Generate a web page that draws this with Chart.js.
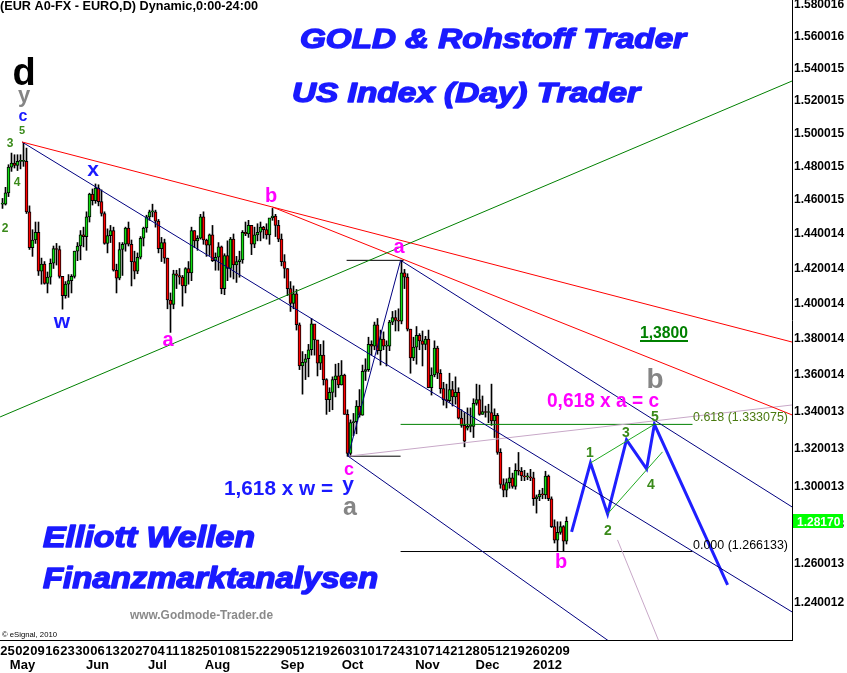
<!DOCTYPE html>
<html lang="de">
<head>
<meta charset="UTF-8" />
<title>EUR A0-FX - Elliott Wellen</title>
<script src="https://cdn.jsdelivr.net/npm/chart.js"></script>
<style>
  html, body { margin: 0; padding: 0; background: #fff; }
  #wrap { width: 847px; height: 673px; }
</style>
</head>
<body>
<div id="wrap"><canvas id="chart" width="847" height="673"></canvas></div>
<script>
// ---- data (trading days from Mon 25 Apr 2011 to Thu 12 Jan 2012, index 0..188) ----
const weekLabels = ['25','02','09','16','23','30','06','13','20','27','04','11','18','25','01','08','15','22','29',
  '05','12','19','26','03','10','17','24','31','07','14','21','28','05','12','19','26','02','09'];
const monthMarks = {1: 'May', 6: 'Jun', 10: 'Jul', 14: 'Aug', 19: 'Sep', 23: 'Oct', 28: 'Nov', 32: 'Dec', 36: '2012'};

const yTickLabels = ['1.580016','1.560016','1.540015','1.520015','1.500015','1.480015','1.460015','1.440014',
  '1.420014','1.400014','1.380014','1.360014','1.340013','1.320013','1.300013','1.280013','1.260013','1.240012'];

const opens = [
  1.4575,1.4575,1.4642,1.4795,1.4820, 1.4805,1.4830,1.4830,1.4830,1.4530,
  1.4320,1.4365,1.4410,1.4185,1.4225, 1.4115,1.4150,1.4230,1.4315,1.4310,
  1.4155,1.4045,1.4110,1.4130,1.4155, 1.4300,1.4330,1.4395,1.4385,1.4500,
  1.4635,1.4595,1.4670,1.4590,1.4520, 1.4345,1.4390,1.4420,1.4190,1.4145,
  1.4310,1.4340,1.4435,1.4340,1.4240, 1.4185,1.4265,1.4375,1.4435,1.4500,
  1.4530,1.4530,1.4475,1.4315,1.4350, 1.4260,1.4020,1.3995,1.4170,1.4160,
  1.4150,1.4100,1.4200,1.4175,1.4420, 1.4360,1.4375,1.4500,1.4365,1.4335,
  1.4395,1.4245,1.4265,1.4325,1.4085, 1.4275,1.4200,1.4370,1.4220,1.4240,
  1.4250,1.4410,1.4400,1.4450,1.4340, 1.4395,1.4410,1.4440,1.4425,1.4395,
  1.4495,1.4505,1.4450,1.4370,1.4240, 1.4200,1.4085,1.4000,1.4055,1.3880,
  1.3650,1.3670,1.3690,1.3740,1.3885, 1.3795,1.3665,1.3710,1.3575,1.3465,
  1.3505,1.3575,1.3595,1.3545,1.3600, 1.3385,1.3175,1.3340,1.3345,1.3430,
  1.3380,1.3620,1.3630,1.3770,1.3760, 1.3880,1.3735,1.3800,1.3760,1.3760,
  1.3895,1.3920,1.3905,1.3900,1.4175, 1.4150,1.3855,1.3695,1.3755,1.3820,
  1.3790,1.3770,1.3800,1.3530,1.3600, 1.3750,1.3610,1.3525,1.3465,1.3460,
  1.3520,1.3480,1.3505,1.3365,1.3325, 1.3310,1.3320,1.3320,1.3445,1.3465,
  1.3385,1.3400,1.3395,1.3395,1.3350, 1.3380,1.3180,1.3010,1.2980,1.3020,
  1.3045,1.3000,1.3085,1.3080,1.3055, 1.3050,1.3050,1.3045,1.2935,1.2945,
  1.2960,1.2955,1.3055,1.2935,1.2790, 1.2720,1.2760,1.2790,1.2715
];
const highs = [
  1.4609,1.4675,1.4810,1.4880,1.4870, 1.4870,1.4870,1.4940,1.4910,1.4565,
  1.4425,1.4470,1.4470,1.4260,1.4240, 1.4180,1.4255,1.4330,1.4345,1.4330,
  1.4120,1.4125,1.4165,1.4165,1.4300, 1.4350,1.4420,1.4440,1.4530,1.4640,
  1.4665,1.4695,1.4690,1.4660,1.4530, 1.4430,1.4450,1.4440,1.4225,1.4350,
  1.4350,1.4440,1.4470,1.4365,1.4300, 1.4290,1.4385,1.4440,1.4510,1.4540,
  1.4575,1.4540,1.4485,1.4380,1.4370, 1.4260,1.4060,1.4190,1.4190,1.4200,
  1.4160,1.4205,1.4240,1.4440,1.4420, 1.4390,1.4515,1.4530,1.4370,1.4400,
  1.4450,1.4290,1.4350,1.4330,1.4285, 1.4360,1.4380,1.4400,1.4270,1.4300,
  1.4420,1.4470,1.4480,1.4450,1.4440, 1.4460,1.4470,1.4445,1.4460,1.4490,
  1.4550,1.4515,1.4480,1.4400,1.4280, 1.4200,1.4125,1.4100,1.4080,1.3890,
  1.3730,1.3715,1.3770,1.3915,1.3860, 1.3770,1.3770,1.3790,1.3580,1.3530,
  1.3590,1.3660,1.3665,1.3680,1.3605, 1.3410,1.3355,1.3390,1.3460,1.3520,
  1.3655,1.3690,1.3810,1.3790,1.3895, 1.3915,1.3850,1.3840,1.3790,1.3905,
  1.3955,1.3960,1.3970,1.4247,1.4195, 1.4170,1.3855,1.3810,1.3870,1.3830,
  1.3845,1.3815,1.3850,1.3640,1.3790, 1.3760,1.3630,1.3560,1.3550,1.3610,
  1.3565,1.3590,1.3530,1.3410,1.3395, 1.3420,1.3420,1.3470,1.3550,1.3545,
  1.3485,1.3430,1.3440,1.3550,1.3415, 1.3390,1.3200,1.3040,1.3040,1.3100,
  1.3070,1.3120,1.3180,1.3100,1.3085, 1.3070,1.3090,1.3075,1.2955,1.2980,
  1.2990,1.3080,1.3060,1.2945,1.2825, 1.2815,1.2815,1.2795,1.2840
];
const lows = [
  1.4550,1.4570,1.4620,1.4770,1.4790, 1.4775,1.4785,1.4800,1.4520,1.4310,
  1.4270,1.4345,1.4160,1.4110,1.4110, 1.4060,1.4110,1.4200,1.4220,1.4145,
  1.3968,1.4030,1.4035,1.4060,1.4145, 1.4245,1.4250,1.4325,1.4305,1.4470,
  1.4570,1.4580,1.4565,1.4505,1.4340, 1.4290,1.4350,1.4185,1.4060,1.4135,
  1.4160,1.4300,1.4330,1.4100,1.4140, 1.4170,1.4255,1.4330,1.4410,1.4480,
  1.4500,1.4440,1.4290,1.4240,1.4230, 1.3970,1.3837,1.3970,1.4085,1.4110,
  1.3985,1.4060,1.4110,1.4130,1.4320, 1.4305,1.4370,1.4340,1.4270,1.4275,
  1.4240,1.4190,1.4190,1.4055,1.4050, 1.4130,1.4150,1.4140,1.4120,1.4150,
  1.4230,1.4390,1.4380,1.4280,1.4320, 1.4360,1.4360,1.4375,1.4370,1.4340,
  1.4480,1.4385,1.4355,1.4215,1.4145, 1.4045,1.3955,1.3970,1.3850,1.3630,
  1.3495,1.3575,1.3590,1.3710,1.3710, 1.3595,1.3630,1.3545,1.3385,1.3400,
  1.3410,1.3480,1.3530,1.3545,1.3385, 1.3160,1.3160,1.3270,1.3280,1.3370,
  1.3380,1.3570,1.3620,1.3710,1.3740, 1.3715,1.3655,1.3740,1.3650,1.3735,
  1.3880,1.3845,1.3845,1.3885,1.4085, 1.3845,1.3610,1.3680,1.3660,1.3740,
  1.3650,1.3740,1.3530,1.3490,1.3590, 1.3580,1.3500,1.3435,1.3420,1.3450,
  1.3430,1.3440,1.3360,1.3315,1.3210, 1.3300,1.3290,1.3260,1.3435,1.3380,
  1.3385,1.3370,1.3340,1.3325,1.3260, 1.3170,1.2990,1.2945,1.2945,1.2990,
  1.2990,1.2985,1.3060,1.3030,1.3030, 1.3035,1.3030,1.2900,1.2860,1.2925,
  1.2935,1.2935,1.2925,1.2785,1.2705, 1.266133,1.2750,1.2665,1.2700
];
const closes = [
  1.4575,1.4642,1.4795,1.4820,1.4805, 1.4830,1.4830,1.4830,1.4530,1.4320,
  1.4365,1.4410,1.4185,1.4225,1.4115, 1.4150,1.4230,1.4315,1.4310,1.4155,
  1.4045,1.4110,1.4130,1.4155,1.4300, 1.4330,1.4395,1.4385,1.4500,1.4635,
  1.4595,1.4670,1.4590,1.4520,1.4345, 1.4390,1.4420,1.4190,1.4145,1.4310,
  1.4340,1.4435,1.4340,1.4240,1.4185, 1.4265,1.4375,1.4435,1.4500,1.4530,
  1.4530,1.4475,1.4315,1.4350,1.4260, 1.4020,1.3995,1.4170,1.4160,1.4150,
  1.4100,1.4200,1.4175,1.4420,1.4360, 1.4375,1.4500,1.4365,1.4335,1.4395,
  1.4245,1.4265,1.4325,1.4085,1.4275, 1.4200,1.4370,1.4220,1.4240,1.4250,
  1.4410,1.4400,1.4450,1.4340,1.4395, 1.4410,1.4440,1.4425,1.4395,1.4495,
  1.4505,1.4450,1.4370,1.4240,1.4200, 1.4085,1.4000,1.4055,1.3880,1.3650,
  1.3670,1.3690,1.3740,1.3885,1.3795, 1.3665,1.3710,1.3575,1.3465,1.3505,
  1.3575,1.3595,1.3545,1.3600,1.3385, 1.3175,1.3340,1.3345,1.3430,1.3380,
  1.3620,1.3630,1.3770,1.3760,1.3880, 1.3735,1.3800,1.3760,1.3760,1.3895,
  1.3920,1.3905,1.3900,1.4175,1.4150, 1.3855,1.3695,1.3755,1.3820,1.3790,
  1.3770,1.3800,1.3530,1.3600,1.3750, 1.3610,1.3525,1.3465,1.3460,1.3520,
  1.3480,1.3505,1.3365,1.3325,1.3240, 1.3320,1.3320,1.3445,1.3465,1.3385,
  1.3400,1.3395,1.3395,1.3350,1.3380, 1.3180,1.3010,1.2980,1.3020,1.3045,
  1.3000,1.3085,1.3080,1.3055,1.3050, 1.3050,1.3045,1.2935,1.2945,1.2960,
  1.2955,1.3055,1.2935,1.2790,1.2720, 1.2760,1.2790,1.2715,1.2817
];

// trend lines: [trading-day index, price]
const redUpper   = [[6.5, 1.4947], [263.2, 1.3783]];
const redLower   = [[90, 1.4558], [263.2, 1.3382]];
const greenLong  = [[-0.8, 1.3371], [263.2, 1.5321]];
const navyUpper  = [[6.5, 1.4947], [263.2, 1.2355]];
const navyFromA  = [[132.7, 1.4247], [263.2, 1.2892]];
const navyFromC  = [[115.2, 1.3160], [202.5, 1.2206]];
const navyCtoA   = [[115.2, 1.3160], [132.7, 1.4247]];
const lightUp    = [[115.2, 1.3160], [263.2, 1.3436]];
const lightDown  = [[205, 1.2721], [219.3, 1.2191]];
const fibTop     = [[132.7, 1.333075], [230, 1.333075]];
const fibBase    = [[132.7, 1.266133], [230, 1.266133]];
const aLevel     = [[114.7, 1.4247], [133.7, 1.4247]];
const cLevel     = [[115, 1.3160], [132.7, 1.3160]];
const channel1   = [[196, 1.3124], [217.3, 1.3331]];
const channel2   = [[201.7, 1.2856], [220, 1.3183]];
const projX = [189.7, 196, 201.7, 208, 214.7, 217.3, 241.7];
const projY = [1.2762, 1.3124, 1.2856, 1.3247, 1.3092, 1.3331, 1.2491];

// ---- build datasets ----
const GREEN = '#11dd11', RED = '#ff0000';
const wicks = opens.map((o, i) => ({x: i, y: [lows[i], highs[i]]}));
const bodies = opens.map((o, i) => ({x: i, y: [o, closes[i]]}));
const bodyColors = opens.map((o, i) => closes[i] >= o ? GREEN : RED);

function seg(pts, color, width) {
  return {
    type: 'line',
    data: pts.map(p => ({x: p[0], y: p[1]})),
    borderColor: color,
    borderWidth: width || 1,
    pointRadius: 0,
    fill: false,
    tension: 0,
    order: -1
  };
}

const datasets = [
  {type: 'bar', data: wicks, backgroundColor: '#000', borderWidth: 0, barThickness: 1, grouped: false, order: 2},
  {type: 'bar', data: bodies, backgroundColor: bodyColors, borderColor: '#000', borderWidth: 1,
   borderSkipped: false, barThickness: 3, minBarLength: 1, grouped: false, order: 1},
  seg(greenLong, '#008000'),
  seg(redUpper, '#ff0000'),
  seg(redLower, '#ff0000'),
  seg(navyUpper, '#000080'),
  seg(navyFromA, '#000080'),
  seg(navyFromC, '#000080'),
  seg(navyCtoA, '#000080'),
  seg(lightUp, '#c8a8c8'),
  seg(lightDown, '#c8a8c8'),
  seg(fibTop, '#008000'),
  seg(fibBase, '#000000'),
  seg(aLevel, '#000000'),
  seg(cLevel, '#000000'),
  seg(channel1, '#22aa22'),
  seg(channel2, '#22aa22'),
  seg(projX.map((x, i) => [x, projY[i]]), '#1f1fff', 3)
];

// ---- text overlay ----
function put(ctx, s, x, y, font, color, align, width, heavy) {
  ctx.save();
  ctx.font = font;
  ctx.fillStyle = color;
  ctx.textBaseline = 'alphabetic';
  ctx.textAlign = 'left';
  const w = ctx.measureText(s).width;
  const sx = width ? width / w : 1;
  const left = align === 'center' ? x - w * sx / 2 : x;
  ctx.translate(left, y);
  ctx.scale(sx, 1);
  ctx.fillText(s, 0, 0);
  if (heavy) {
    ctx.strokeStyle = color;
    ctx.lineWidth = heavy;
    ctx.lineJoin = 'round';
    ctx.strokeText(s, 0, 0);
  }
  ctx.restore();
}

const F = '"Liberation Sans", Arial, sans-serif';
const BLUE = '#1a1aff', MAG = '#ff00ff', GREY = '#858585', WGREEN = '#3a8a1a';

const overlay = {
  id: 'overlay',
  afterDraw(chart) {
    const ctx = chart.ctx;
    put(ctx, '(EUR A0-FX - EURO,D) Dynamic,0:00-24:00', 0, 10, 'bold 12px ' + F, '#000', 'left', 258);
    put(ctx, 'GOLD & Rohstoff Trader', 300, 48, 'italic bold 27px ' + F, BLUE, 'left', 386, 1.4);
    put(ctx, 'US Index (Day) Trader', 292, 102, 'italic bold 27px ' + F, BLUE, 'left', 348, 1.4);

    // left wave labels
    put(ctx, 'd', 24, 85, 'bold 38px ' + F, '#000', 'center');
    put(ctx, 'y', 24, 102, 'bold 22px ' + F, GREY, 'center');
    put(ctx, 'c', 23, 121, 'bold 16px ' + F, BLUE, 'center');
    put(ctx, '5', 22, 134, 'bold 11px ' + F, WGREEN, 'center');
    put(ctx, '3', 10, 147, 'bold 12px ' + F, WGREEN, 'center');
    put(ctx, '4', 17, 186, 'bold 12px ' + F, WGREEN, 'center');
    put(ctx, '2', 5, 232, 'bold 12px ' + F, WGREEN, 'center');
    put(ctx, 'x', 93, 176, 'bold 21px ' + F, BLUE, 'center');
    put(ctx, 'w', 62, 328, 'bold 21px ' + F, BLUE, 'center');
    put(ctx, 'b', 271, 202, 'bold 20px ' + F, MAG, 'center');
    put(ctx, 'a', 168, 346, 'bold 20px ' + F, MAG, 'center');
    put(ctx, 'a', 399, 253, 'bold 20px ' + F, MAG, 'center');
    put(ctx, 'c', 349, 475, 'bold 18px ' + F, MAG, 'center');
    put(ctx, 'y', 348, 491, 'bold 21px ' + F, BLUE, 'center');
    put(ctx, 'a', 350, 515, 'bold 25px ' + F, GREY, 'center');
    put(ctx, '1,618 x w =', 224, 495, 'bold 21px ' + F, BLUE, 'left', 109);

    put(ctx, 'Elliott Wellen', 43, 547, 'italic bold 29px ' + F, BLUE, 'left', 212, 1.5);
    put(ctx, 'Finanzmarktanalysen', 43, 588, 'italic bold 29px ' + F, BLUE, 'left', 335, 1.5);
    put(ctx, 'www.Godmode-Trader.de', 130, 619, 'bold 12px ' + F, '#8a8a8a', 'left', 143);
    put(ctx, '\u00A9 eSignal, 2010', 2, 637, '8px ' + F, '#000', 'left', 55);

    // right side
    put(ctx, '1,3800', 640, 338, 'bold 16px ' + F, '#008000', 'left', 48);
    ctx.fillStyle = '#008000';
    ctx.fillRect(640, 340, 48, 2);
    put(ctx, 'b', 655, 388, 'bold 28px ' + F, GREY, 'center');
    put(ctx, '0,618 x a = c', 547, 407, 'bold 20px ' + F, MAG, 'left', 112);
    put(ctx, '5', 655, 421, 'bold 14px ' + F, WGREEN, 'center');
    put(ctx, '3', 626, 437, 'bold 14px ' + F, WGREEN, 'center');
    put(ctx, '1', 590, 457, 'bold 14px ' + F, WGREEN, 'center');
    put(ctx, '2', 608, 535, 'bold 14px ' + F, WGREEN, 'center');
    put(ctx, '4', 651, 489, 'bold 14px ' + F, WGREEN, 'center');
    put(ctx, 'b', 561, 568, 'bold 20px ' + F, MAG, 'center');
    put(ctx, '0.618 (1.333075)', 693, 421, '12px ' + F, '#4a7a10', 'left', 95);
    put(ctx, '0.000 (1.266133)', 693, 549, '12px ' + F, '#000', 'left', 95);

    // last price marker
    const last = closes[closes.length - 1];
    const py = chart.scales.y.getPixelForValue(last);
    ctx.fillStyle = '#00ff00';
    ctx.fillRect(793, Math.round(py) - 7, 50, 14);
    put(ctx, last.toFixed(5), 797, Math.round(py) + 5, 'bold 12px ' + F, '#fff', 'left');
  }
};

// ---- chart ----
new Chart(document.getElementById('chart'), {
  type: 'bar',
  data: {datasets: datasets},
  options: {
    responsive: false,
    animation: false,
    devicePixelRatio: 1,
    layout: {padding: 0},
    plugins: {legend: {display: false}, tooltip: {enabled: false}},
    scales: {
      x: {
        type: 'linear',
        offset: false,
        min: -2.5 / 3,
        max: -2.5 / 3 + 792 / 3,
        grid: {display: true, drawOnChartArea: false, drawTicks: false},
        border: {display: true, color: '#000', width: 1},
        afterBuildTicks: s => { s.ticks = weekLabels.map((_, w) => ({value: w * 5})); },
        afterFit: s => { s.height = 33; s.paddingLeft = 0; s.paddingRight = 0; },
        ticks: {
          autoSkip: false, maxRotation: 0, minRotation: 0, padding: 4, labelOffset: 5,
          color: '#000',
          font: {family: F, size: 13, weight: 'bold', lineHeight: 1.12},
          callback: v => { const w = Math.round(v / 5); return [weekLabels[w], monthMarks[w] || '']; }
        }
      },
      y: {
        type: 'logarithmic',
        position: 'right',
        bounds: 'data',
        min: 1.22154,
        max: 1.58322,
        grid: {display: true, drawOnChartArea: false, drawTicks: false},
        border: {display: true, color: '#000', width: 1},
        afterBuildTicks: s => { s.ticks = yTickLabels.map(l => ({value: parseFloat(l)})); },
        afterFit: s => { s.width = 55; s.paddingTop = 0; s.paddingBottom = 0; },
        ticks: {
          padding: 2, color: '#000',
          font: {family: F, size: 12, weight: 'bold'},
          callback: (v, i) => yTickLabels[i]
        }
      }
    }
  },
  plugins: [overlay]
});
</script>
</body>
</html>
